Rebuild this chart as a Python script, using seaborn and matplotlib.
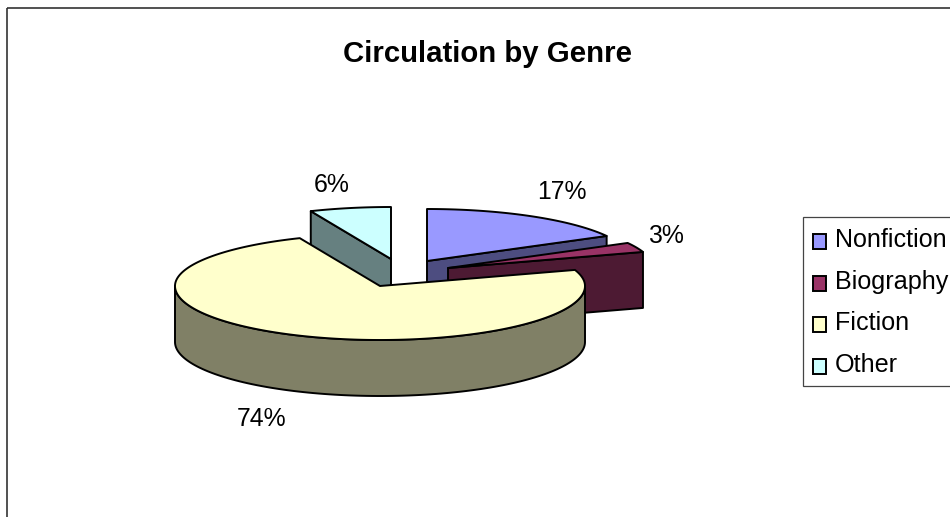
import numpy as np
import matplotlib
matplotlib.use('Agg')
import matplotlib.pyplot as plt
from matplotlib.legend_handler import HandlerPatch
from matplotlib.patches import Patch, Rectangle
import seaborn as sns

# Chart data
genres = ['Nonfiction', 'Biography', 'Fiction', 'Other']
shares = [17.0, 3.0, 73.6, 6.4]

# Look of the chart
colors = ['#9999FF', '#993366', '#FFFFCC', '#CCFFFF']
apex_x = [427, 448, 380, 391]
apex_y = [261, 268, 286, 259]
label_x = [562, 666, 262, 332]
label_y = [192, 236, 419, 185]
draw_order = [3, 0, 1, 2]
rx, ry_back, ry_front, depth = 205, 52, 54, 56
edge_lw = 1.4

sns.set_theme(style='white')
plt.rcParams['font.family'] = ['Liberation Sans', 'DejaVu Sans']


def rim(ax0, ay0, deg):
    # point on the pie rim, angle measured clockwise from 12 o'clock
    a = np.radians(deg)
    ry = np.where(np.cos(a) > 0, ry_back, ry_front)
    return ax0 + rx * np.sin(a), ay0 - ry * np.cos(a)


def low_square(legend, orig_handle, xdescent, ydescent, width, height, fontsize):
    # legend key sits a little lower than matplotlib puts it
    return Rectangle((-xdescent, -ydescent - 2.5), width, height)


fig = plt.figure(figsize=(9.5, 5.17), dpi=100)
ax = fig.add_axes([0, 0, 1, 1])
ax.set_xlim(0, 950)
ax.set_ylim(517, 0)
ax.axis('off')

ax.add_patch(Rectangle((6.5, 7.5), 1000, 600, fill=False, ec='#333333', lw=1.2))

edges = np.concatenate([[0], np.cumsum(shares)]) * 360 / sum(shares)

for z, i in enumerate(draw_order, start=2):
    start, end = edges[i], edges[i + 1]
    x0, y0 = apex_x[i], apex_y[i]
    top = np.array(sns.color_palette([colors[i]])[0])
    dark = top * 0.5

    # the straight walls that face the viewer
    for deg, visible in [(start, np.sin(np.radians(start)) < -1e-6),
                         (end, np.sin(np.radians(end)) > 1e-6)]:
        if visible:
            px, py = rim(x0, y0, deg)
            ax.fill([x0, px, px, x0], [y0, py, py + depth, y0 + depth],
                    fc=dark, ec='black', lw=edge_lw, joinstyle='round', zorder=z)

    # round outer wall, front half only
    a0, a1 = max(start, 90), min(end, 270)
    if a1 > a0:
        t = np.linspace(a0, a1, 120)
        px, py = rim(x0, y0, t)
        ax.fill(np.r_[px, px[::-1]], np.r_[py, py[::-1] + depth],
                fc=dark, ec='black', lw=edge_lw, joinstyle='round', zorder=z)

    # top face
    t = np.linspace(start, end, 240)
    px, py = rim(x0, y0, t)
    ax.fill(np.r_[x0, px], np.r_[y0, py], fc=top, ec='black', lw=edge_lw,
            joinstyle='round', zorder=z)

for share, lx, ly in zip(shares, label_x, label_y):
    ax.text(lx, ly, f'{share:.0f}%', ha='center', va='center', fontsize=17.8, color='black')

ax.text(487.5, 54, 'Circulation by Genre', ha='center', va='center', fontsize=21.2,
        fontweight='bold', color='black')

# legend frame runs off the right side of the picture
ax.add_patch(Rectangle((802.5, 217), 300, 169, fc='white', ec='#444444', lw=0.9, zorder=10))
handles = [Patch(fc=c, ec='black', lw=1.4) for c in colors]
leg = ax.legend(handles, genres, loc='upper left', bbox_to_anchor=(813 / 950, 1 - 228 / 517),
                bbox_transform=ax.transAxes, borderaxespad=0, borderpad=0, fontsize=18.1,
                frameon=False, handlelength=0.53, handleheight=0.53, handletextpad=0.33,
                labelspacing=0.70, labelcolor='black',
                handler_map={Patch: HandlerPatch(patch_func=low_square)})
leg.set_zorder(20)

fig.savefig('out.png', dpi=100)
plt.close(fig)
